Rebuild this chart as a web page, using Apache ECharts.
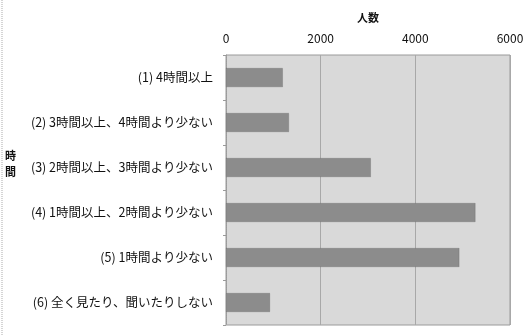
<!DOCTYPE html>
<html><head><meta charset="utf-8">
<script src="https://cdn.jsdelivr.net/npm/echarts@6/dist/echarts.min.js"></script>
<style>html,body{margin:0;padding:0;background:#fff}#c{width:528px;height:336px}</style>
</head><body><div id="c"></div>
<script>
const categories = [
  '(1) 4時間以上',
  '(2) 3時間以上、4時間より少ない',
  '(3) 2時間以上、3時間より少ない',
  '(4) 1時間以上、2時間より少ない',
  '(5) 1時間より少ない',
  '(6) 全く見たり、聞いたりしない'
];
const values = [1200, 1330, 3060, 5270, 4930, 930];
const xTicks = [0, 2000, 4000, 6000];
const xName = '人数';
const yName = '時間';

const chart = echarts.init(document.getElementById('c'), null, {renderer: 'canvas'});
const font = '"Noto Sans CJK JP", "Noto Sans", sans-serif';
chart.setOption({
  animation: false,
  backgroundColor: '#fff',
  textStyle: {fontFamily: font},
  grid: {left: 226, right: 18, top: 55, bottom: 11, show: true, backgroundColor: '#d9d9d9', borderColor: '#9a9a9a', borderWidth: 1},
  xAxis: {
    type: 'value', position: 'top', min: xTicks[0], max: xTicks[xTicks.length - 1], interval: 2000,
    name: xName, nameLocation: 'middle', nameGap: 32,
    nameTextStyle: {fontSize: 11, fontWeight: 'bold', color: '#111', fontFamily: font},
    axisLine: {show: false}, axisTick: {show: false},
    axisLabel: {fontSize: 12, color: '#111', margin: 11, fontFamily: font, formatter: v => String(v)},
    splitLine: {lineStyle: {color: '#a8a8a8', width: 1}}
  },
  yAxis: {
    type: 'category', data: categories, inverse: true,
    axisLine: {show: true, lineStyle: {color: '#9a9a9a', type: 'dotted'}},
    axisTick: {show: true, length: 3, lineStyle: {color: '#9a9a9a'}},
    axisLabel: {fontSize: 12.5, color: '#111', margin: 13, fontFamily: font}
  },
  series: [{
    type: 'bar', data: values, barWidth: 19,
    itemStyle: {color: '#8c8c8c', borderColor: '#555', borderWidth: 0.5, borderType: 'dotted'}
  }],
  graphic: [
    {type: 'text', left: 5, top: 148, style: {text: yName.split('').join('\n'), fill: '#111', font: 'bold 11px ' + font, lineHeight: 16}},
    {type: 'line', shape: {x1: 2, y1: 0, x2: 2, y2: 336}, style: {stroke: '#aaa', lineWidth: 1, lineDash: [1, 1]}}
  ]
});
</script></body></html>
